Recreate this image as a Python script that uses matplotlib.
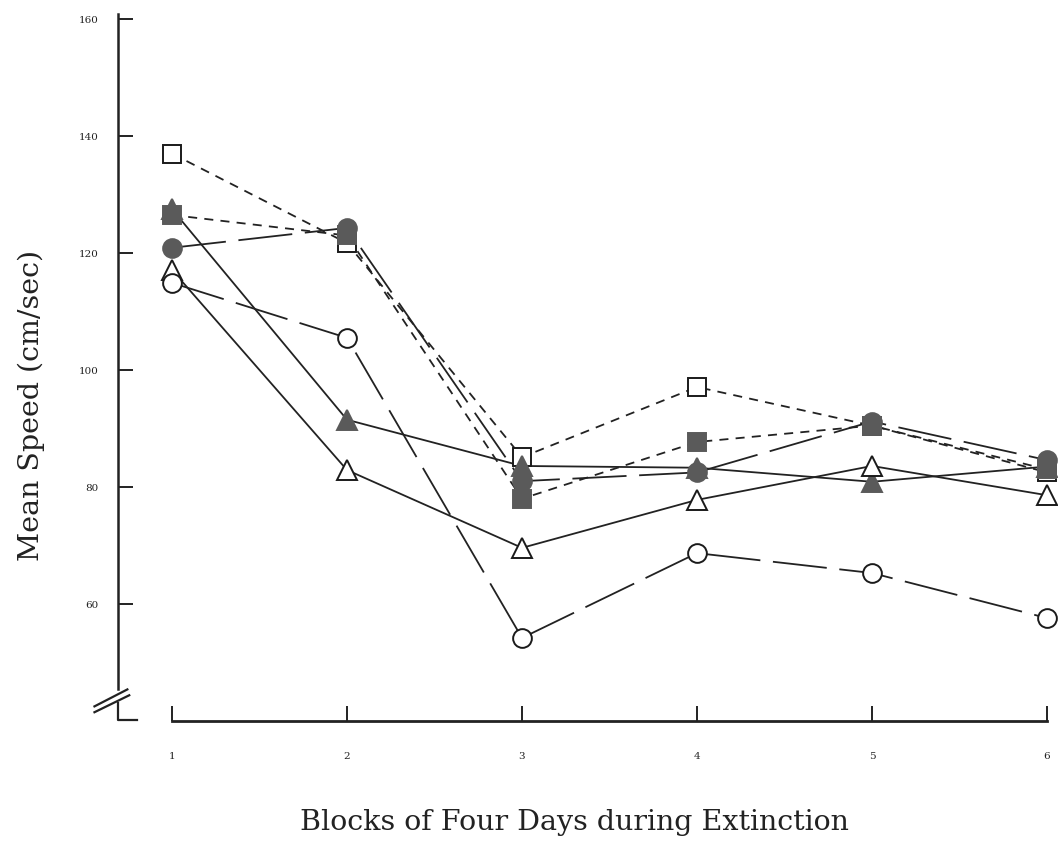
import matplotlib
matplotlib.use("Agg")
import matplotlib.pyplot as plt
import matplotlib.transforms as mtransforms

# blocks of four days
blocks = [1, 2, 3, 4, 5, 6]

# mean speed (cm/sec) per group
open_square = [137, 121.7, 85.1, 97.1, 90.5, 82.5]
filled_square = [126.5, 123, 78, 87.7, 90.5, 83]
filled_circle = [120.9, 124.3, 81, 82.5, 91.2, 84.6]
filled_triangle = [127.5, 91.5, 83.6, 83.3, 80.9, 83.5]
open_triangle = [117.1, 82.9, 69.6, 77.8, 83.6, 78.6]
open_circle = [114.9, 105.5, 54.2, 68.7, 65.3, 57.6]

yticks = [60, 80, 100, 120, 140, 160]

gray = "#5a5a5a"
short_dash = (5, 4)
long_dash = (30, 7)

series = [
    # values, marker, face, line dashes
    (open_square, "s", "white", short_dash),
    (filled_square, "s", gray, short_dash),
    (filled_circle, "o", gray, long_dash),
    (filled_triangle, "^", gray, None),
    (open_triangle, "^", "white", None),
    (open_circle, "o", "white", long_dash),
]

fig = plt.figure(figsize=(10.58, 8.42), dpi=100)
ax = fig.add_axes([0.1115, 0.1437, 0.8885, 0.8406])

for vals, mk, face, dash in series:
    # lines first, markers on top so the open symbols hide the lines
    if dash is None:
        ax.plot(blocks, vals, color="#222222", lw=1.3, zorder=2)
    else:
        ax.plot(blocks, vals, color="#222222", lw=1.3, dashes=dash, zorder=2)
for vals, mk, face, dash in series:
    edge = "#1a1a1a" if face == "white" else gray
    ax.plot(blocks, vals, linestyle="none", marker=mk, markersize=13.5 if mk != "^" else 15,
            markerfacecolor=face, markeredgecolor=edge, markeredgewidth=1.4, zorder=3,
            clip_on=False)

ax.set_xlim(0.691, 6.063)
ax.set_ylim(40, 161)

for s in ["top", "right"]:
    ax.spines[s].set_visible(False)
ax.spines["left"].set_bounds(45.5, 160.8)
ax.spines["left"].set_linewidth(1.8)
ax.spines["bottom"].set_bounds(1, 6)
ax.spines["bottom"].set_linewidth(2.0)
ax.spines["left"].set_color("#222222")
ax.spines["bottom"].set_color("#222222")

# axis break on the y axis and the small foot below it
tr = mtransforms.blended_transform_factory(ax.transAxes, ax.transData)
ax.plot([-0.025, 0.012], [41.5, 44.4], color="#222222", lw=1.6, transform=tr, clip_on=False)
ax.plot([-0.025, 0.010], [42.5, 45.4], color="#222222", lw=1.6, transform=tr, clip_on=False)
ax.plot([0, 0, 0.02], [43.0, 40.2, 40.2], color="#222222", lw=1.6, transform=tr, clip_on=False)

ax.set_yticks(yticks)
ax.set_yticklabels([str(v) for v in yticks], family="DejaVu Serif", fontsize=7.5)
ax.set_xticks(blocks)
ax.set_xticklabels([str(b) for b in blocks], family="DejaVu Serif", fontsize=7.5)
ax.tick_params(axis="y", direction="in", length=11, width=1.4, pad=14, colors="#222222")
ax.tick_params(axis="x", direction="in", length=11, width=1.4, pad=22, colors="#222222")

ax.set_ylabel("Mean Speed (cm/sec)", family="DejaVu Serif", fontsize=20.5, color="#222222")
ax.yaxis.set_label_coords(-0.078, 0.446)
ax.set_xlabel("Blocks of Four Days during Extinction", family="DejaVu Serif", fontsize=20.5,
              color="#222222")
ax.xaxis.set_label_coords(0.486, -0.125)

fig.savefig("out.png", dpi=100)
